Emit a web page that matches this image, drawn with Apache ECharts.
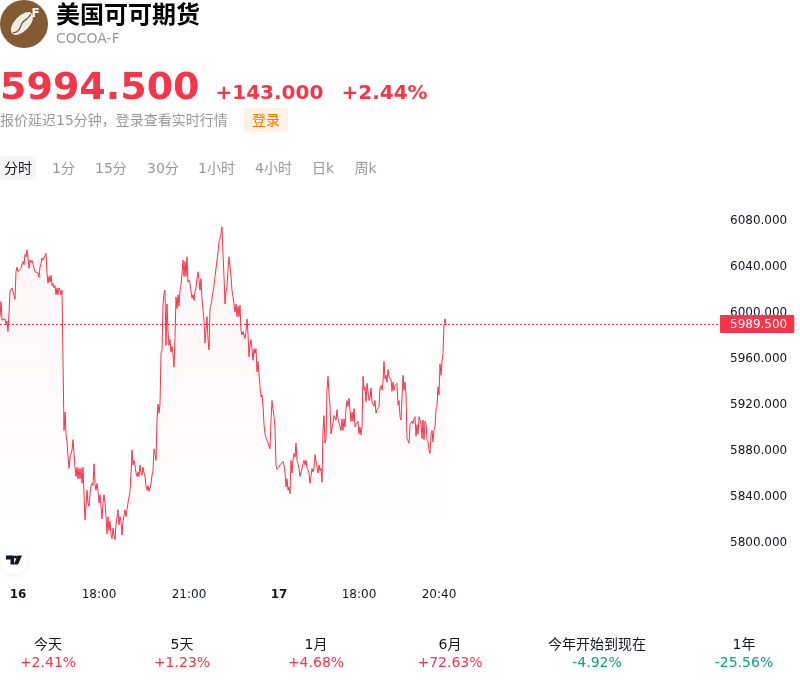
<!DOCTYPE html>
<html><head><meta charset="utf-8">
<script src="https://cdn.jsdelivr.net/npm/echarts@6/dist/echarts.min.js"></script>
<style>
html,body{margin:0;padding:0;background:#fff;width:800px;height:682px;overflow:hidden;font-family:"DejaVu Sans","Noto Sans CJK SC",sans-serif}
#chart{position:absolute;left:0;top:0;width:800px;height:682px}
.t{position:absolute;white-space:nowrap;line-height:1}
.c{transform:translateX(-50%)}
</style></head><body>
<div id="chart"></div>
<svg style="position:absolute;left:0;top:0" width="48" height="48" viewBox="0 0 48 48">
<circle cx="24" cy="24" r="24" fill="#845a33"/>
<ellipse cx="22" cy="23.5" rx="7.5" ry="14" transform="rotate(43 22 23.5)" fill="#f1ece6"/>
<path d="M13 33 C21 32 20 25 23 22 C26 19 28 19 31 14" stroke="#845a33" stroke-width="1.4" fill="none"/>
<text x="31.5" y="17" font-family="DejaVu Sans" font-weight="700" font-size="12" fill="#fff">F</text>
</svg>
<svg style="position:absolute;left:-2px;top:544px;overflow:visible" width="32" height="32" viewBox="0 0 32 32">
<defs><filter id="sh" x="-40%" y="-40%" width="180%" height="180%"><feDropShadow dx="0" dy="1" stdDeviation="3" flood-color="#000" flood-opacity="0.07"/></filter></defs>
<circle cx="16" cy="17" r="13" fill="#fff" filter="url(#sh)"/>
<path d="M8 11.5h8v9h-3.5v-5H8zM19.5 11.5h4.5l-4 9h-4.2z" fill="#131722"/>
<circle cx="17.5" cy="13" r="1.6" fill="#131722"/>
</svg>
<div class="t" style="left:56px;top:3px;font-size:24px;font-weight:700;color:#000">美国可可期货</div>
<div class="t" style="left:56px;top:31px;font-size:14px;color:#999">COCOA-F</div>
<div class="t" style="left:0;top:67px;font-size:38px;font-weight:700;color:#f5354a">5994.500</div>
<div class="t" style="left:215.5px;top:82px;font-size:20px;font-weight:700;color:#f5354a">+143.000</div>
<div class="t" style="left:341.5px;top:82px;font-size:20px;font-weight:700;color:#f5354a">+2.44%</div>
<div class="t" style="left:0;top:113px;font-size:14px;color:#999">报价延迟15分钟&#xFF0C;登录查看实时行情</div>
<div style="position:absolute;left:244px;top:108px;width:44px;height:24px;background:#fff1e6;border-radius:4px"></div>
<div class="t" style="left:252px;top:113px;font-size:14px;color:#ff7a00">登录</div>
<div style="position:absolute;left:0;top:156px;width:36px;height:24px;background:#f6f6f6;border-radius:4px"></div>
<div class="t" style="left:4px;top:161px;font-size:14px;color:#131722">分时</div>
<div class="t" style="left:52px;top:161px;font-size:14px;color:#999">1分</div>
<div class="t" style="left:95px;top:161px;font-size:14px;color:#999">15分</div>
<div class="t" style="left:147px;top:161px;font-size:14px;color:#999">30分</div>
<div class="t" style="left:198px;top:161px;font-size:14px;color:#999">1小时</div>
<div class="t" style="left:255px;top:161px;font-size:14px;color:#999">4小时</div>
<div class="t" style="left:312px;top:161px;font-size:14px;color:#999">日k</div>
<div class="t" style="left:354.5px;top:161px;font-size:14px;color:#999">周k</div>
<div id="stats"></div>
<script>
const prices=[5996,6009,5993,5993,5994,5994,5989,5992,5983,5999,6018,6019,6021,6018,6018,6011,6035,6039,6035,6036,6035,6038,6042,6044,6041,6050,6048,6054,6047,6038,6045,6043,6045,6045,6045,6035,6034,6035,6034,6030,6039,6042,6047,6045,6047,6048,6051,6034,6025,6031,6026,6032,6023,6025,6021,6023,6015,6021,6015,6021,6019,6015,6019,6019,
5897,5913,5894,5887,5886,5864,5873,5873,5880,5889,5877,5865,5857,5865,5855,5864,5855,5864,5851,5865,5842,5819,5831,5845,5834,5831,5842,5849,5851,5849,5868,5851,5845,5851,5845,5834,5841,5831,5820,5834,5841,5834,5822,5807,5822,5810,5818,5807,5803,5812,5806,5802,5815,5816,5828,5815,5822,5818,5806,5818,5819,5828,5822,5828,5834,5839,5844,5860,5880,5867,5871,5867,5860,5857,5861,5857,5867,5860,5858,5865,5860,5857,5849,5845,5849,5844,5847,5851,5858,5862,5881,5877,5871,5906,5920,5912,5920,5964,5967,6007,6016,6019,5971,6007,5984,5971,5976,5965,5970,5964,5952,5978,6013,6003,6015,6005,6019,6023,6023,6045,6031,6044,6031,6048,6026,6028,6025,6018,6012,6015,6010,6018,6021,6029,6035,6028,6019,6029,6012,6002,5993,5973,5984,5996,5976,5967,6003,6006,6007,6005,6023,6031,6038,6039,6052,6061,6060,6068,6074,6051,6031,
6007,6018,6022,6037,6048,6048,6031,6019,6018,6007,6000,6007,5996,6005,5996,6006,5984,5980,5983,5980,5977,5983,5994,5981,5961,5971,5976,5968,5958,5968,5964,5968,5948,5957,5958,5935,5926,5928,5919,5902,5894,5891,5891,5886,5886,5881,5906,5923,5915,5909,5900,5867,5863,5864,5865,5867,5867,5867,5870,5867,5860,5848,5855,5845,5848,5842,5871,5860,5871,5877,5874,5886,5871,5868,5864,5857,5857,5864,5868,5871,5867,5871,5865,5864,5860,5851,5857,5864,5861,5864,5876,5877,5876,5860,5867,5862,5864,5852,5897,5910,5886,5890,5932,5944,5929,5918,5894,5899,5903,5910,5910,5906,5915,5907,5906,5907,5897,5907,5897,5907,5900,5916,5923,5918,5925,5925,5905,5913,5905,5916,5900,5902,5903,5905,5894,5900,5893,5900,5944,5932,5935,5922,5938,5939,5923,5925,5934,5922,5923,5918,5923,5912,5915,5916,5918,5934,5936,5932,5939,5957,5942,5945,5939,5950,5944,5945,5941,5931,5939,5932,5936,5935,5938,5919,5923,5909,5906,5906,5945,5932,5939,5929,5890,5889,5886,5902,5902,5905,5903,5907,5909,5892,5902,5894,5909,5906,5902,5890,5906,5889,5905,5903,5889,5887,5880,5877,5894,5897,5887,5897,5900,5915,5918,5935,5928,5955,5945,5957,5965,5990,5994,5989,5989.5];
const lastPrice=5989.5;
const slotCount=721;
const xTickSlots=[18,99,189,279,359,439];
const xTickLabels=["16","18:00","21:00","17","18:00","20:40"];
const xBoldTicks=["16","17"];
const statNames=["今天","5天","1月","6月","今年开始到现在","1年"];
const statValues=["+2.41%","+1.23%","+4.68%","+72.63%","-4.92%","-25.56%"];
const statCentres=[48,182,316,450,597,744];
const RED="#f5354a",GREEN="#12a085",INK="#131722";

document.getElementById("stats").innerHTML=statNames.map((n,i)=>
 `<div class="t c" style="left:${statCentres[i]}px;top:637px;font-size:14px;color:${INK}">${n}</div>`+
 `<div class="t c" style="left:${statCentres[i]}px;top:655px;font-size:14px;color:${statValues[i][0]==='-'?GREEN:RED}">${statValues[i]}</div>`).join("");

const categories=Array.from({length:slotCount},(_,i)=>String(i));
const chart=echarts.init(document.getElementById("chart"),null,{renderer:"canvas"});
chart.setOption({
 animation:false,
 textStyle:{fontFamily:'"DejaVu Sans"'},
 grid:{left:0,width:720,top:174,height:414,containLabel:false},
 xAxis:{type:"category",data:categories,boundaryGap:false,
  axisLine:{show:false},axisTick:{show:false},splitLine:{show:false},
  axisLabel:{margin:1,color:INK,fontSize:12,hideOverlap:false,
   interval:(i)=>xTickSlots.includes(i),
   formatter:(v)=>{const l=xTickLabels[xTickSlots.indexOf(+v)];return xBoldTicks.includes(l)?`{b|${l}}`:l;},
   rich:{b:{fontWeight:700,fontSize:12,color:INK,fontFamily:'"DejaVu Sans"'}}}},
 yAxis:{type:"value",position:"right",min:5760,max:6120,interval:40,scale:true,
  axisLine:{show:false},axisTick:{show:false},splitLine:{show:false},
  axisLabel:{margin:10,color:INK,fontSize:12,showMinLabel:false,showMaxLabel:false,
   formatter:(v)=>`{a|${v.toFixed(3)}}`,
   rich:{a:{fontSize:12,color:INK,fontFamily:'"DejaVu Sans"',padding:[2,0,0,0]}}}},
 series:[{type:"line",data:prices,showSymbol:false,symbol:"none",sampling:"none",silent:true,
  lineStyle:{color:RED,width:1},
  areaStyle:{color:new echarts.graphic.LinearGradient(0,0,0,1,[
   {offset:0,color:"rgba(245,53,74,0.07)"},{offset:0.8,color:"rgba(245,53,74,0.012)"},{offset:0.82,color:"rgba(245,53,74,0)"},{offset:1,color:"rgba(245,53,74,0)"}])},
  markLine:{silent:true,symbol:"none",animation:false,
   lineStyle:{color:RED,width:1,type:[2,2]},
   label:{show:true,position:"end",distance:0,formatter:()=>`{a|${lastPrice.toFixed(3)}}`,
    backgroundColor:RED,padding:[1,7,2,10],borderRadius:1,
    rich:{a:{fontSize:12,color:"#fff",fontFamily:'"DejaVu Sans"',padding:[3,0,0,0]}}},
   data:[{yAxis:lastPrice}]}}]
});
</script>
</body></html>
